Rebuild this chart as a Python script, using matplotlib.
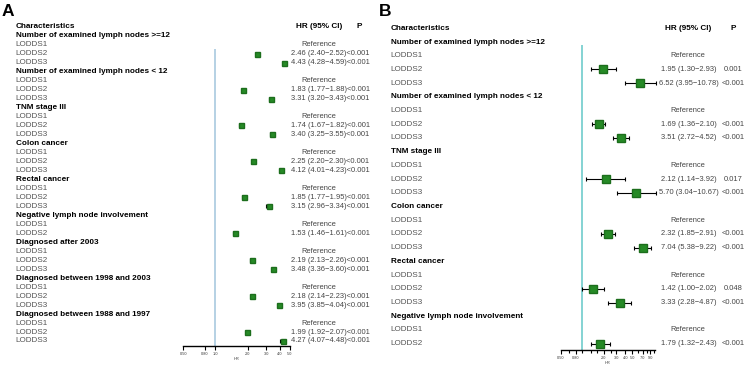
import numpy as np
import matplotlib
matplotlib.use('Agg')
from matplotlib import pyplot as plt
from matplotlib import transforms

plt.rcParams['font.family'] = ['Liberation Sans', 'DejaVu Sans']

## Panel A data
a_groups = ['Number of examined lymph nodes >=12', 'Number of examined lymph nodes < 12',
            'TNM stage III', 'Colon cancer', 'Rectal cancer',
            'Negative lymph node involvement', 'Diagnosed after 2003',
            'Diagnosed between 1998 and 2003', 'Diagnosed between 1988 and 1997']
a_levels = [['LODDS1', 'LODDS2', 'LODDS3']] * 5 + [['LODDS1', 'LODDS2']] + [['LODDS1', 'LODDS2', 'LODDS3']] * 3
a_hr = [[2.46, 4.43], [1.83, 3.31], [1.74, 3.40], [2.25, 4.12], [1.85, 3.15],
        [1.53], [2.19, 3.48], [2.18, 3.95], [1.99, 4.27]]
a_lo = [[2.40, 4.28], [1.77, 3.20], [1.67, 3.25], [2.20, 4.01], [1.77, 2.96],
        [1.46], [2.13, 3.36], [2.14, 3.85], [1.92, 4.07]]
a_hi = [[2.52, 4.59], [1.88, 3.43], [1.82, 3.55], [2.30, 4.23], [1.95, 3.34],
        [1.61], [2.26, 3.60], [2.23, 4.04], [2.07, 4.48]]
a_p = [['<0.001', '<0.001']] * 5 + [['<0.001']] + [['<0.001', '<0.001']] * 3
a_ticks = [0.5, 0.8, 1.0, 2.0, 3.0, 4.0, 5.0]
a_ticklabels = ['0.50', '0.80', '1.0', '2.0', '3.0', '4.0', '5.0']

## Panel B data
b_groups = ['Number of examined lymph nodes >=12', 'Number of examined lymph nodes < 12',
            'TNM stage III', 'Colon cancer', 'Rectal cancer',
            'Negative lymph node involvement']
b_levels = [['LODDS1', 'LODDS2', 'LODDS3']] * 5 + [['LODDS1', 'LODDS2']]
b_hr = [[1.95, 6.52], [1.69, 3.51], [2.12, 5.70], [2.32, 7.04], [1.42, 3.33], [1.79]]
b_lo = [[1.30, 3.95], [1.36, 2.72], [1.14, 3.04], [1.85, 5.38], [1.00, 2.28], [1.32]]
b_hi = [[2.93, 10.78], [2.10, 4.52], [3.92, 10.67], [2.91, 9.22], [2.02, 4.87], [2.43]]
b_p = [['0.001', '<0.001'], ['<0.001', '<0.001'], ['0.017', '<0.001'],
       ['<0.001', '<0.001'], ['0.048', '<0.001'], ['<0.001']]
b_ticks = [0.5, 0.8, 2.0, 3.0, 4.0, 5.0, 7.0, 9.0]
b_ticklabels = ['0.50', '0.80', '2.0', '3.0', '4.0', '5.0', '7.0', '9.0']
b_minor = [0.65, 1.0, 1.3, 1.6, 2.5, 6.0, 8.0, 10.0]

W, H = 747, 368
GREEN = '#268a26'
fig = plt.figure(figsize=(W / 100, H / 100), dpi=100)


def panel(letter, groups, levels, hr, lo, hi, pv, layout):
    (lx, let_x, ax_l, ax_r, xlim, row0, step, axis_y, line_top,
     hr_x, hr_ha, p_x, p_ha, ref_x, msize, fs, vfs, vcolor) = layout
    ybot = (axis_y - row0) / step
    ax = fig.add_axes([ax_l / W, 1 - axis_y / H, (ax_r - ax_l) / W, (axis_y - (row0 - step)) / H])
    ax.set_xscale('log')
    ax.set_xlim(xlim)
    ax.set_ylim(ybot, -1)
    tr = transforms.blended_transform_factory(fig.transFigure, ax.transData)

    fig.text(let_x / W, 1 - 11 / H, letter, fontsize=12.5, fontweight='bold', va='center', ha='left')
    ax.text(lx / W, 0, 'Characteristics', transform=tr, fontsize=fs, fontweight='bold', va='center')
    ax.text(ref_x / W, 0, 'HR (95% CI)', transform=tr, fontsize=fs, fontweight='bold', va='center', ha='center')
    ax.text(p_x / W, 0, 'P', transform=tr, fontsize=fs, fontweight='bold', va='center', ha='center')

    r = 1
    for g, lev, h, l, u, p in zip(groups, levels, hr, lo, hi, pv):
        ax.text(lx / W, r, g, transform=tr, fontsize=fs, fontweight='bold', va='center')
        r += 1
        for k, name in enumerate(lev):
            ax.text(lx / W, r, name, transform=tr, fontsize=fs, color='#555555', va='center')
            if k == 0:
                ax.text(ref_x / W, r, 'Reference', transform=tr, fontsize=vfs, color='#444444',
                        va='center', ha='center')
            else:
                v, a, b = h[k - 1], l[k - 1], u[k - 1]
                ax.errorbar(v, r, xerr=[[v - a], [b - v]], fmt='s', color=GREEN, mec='#1c6e1c',
                            ms=msize, ecolor='black', elinewidth=0.8, capsize=1.5, capthick=0.8,
                            clip_on=False, zorder=3)
                if letter == 'A':
                    ax.text(hr_x / W, r, f'{v:.2f} ({a:.2f}\u2212{b:.2f}){p[k - 1]}', transform=tr,
                            fontsize=vfs, color='#444444', va='center', ha=hr_ha)
                else:
                    ax.text(hr_x / W, r, f'{v:.2f} ({a:.2f}\u2212{b:.2f})', transform=tr,
                            fontsize=vfs, color='#444444', va='center', ha=hr_ha)
                    ax.text(p_x / W, r, p[k - 1], transform=tr, fontsize=vfs, color='#444444',
                            va='center', ha=p_ha)
            r += 1

    ax.vlines(1.0, (line_top - row0) / step, ybot, color=vcolor, lw=1.2, zorder=1)
    for s in ['top', 'right', 'left']:
        ax.spines[s].set_visible(False)
    ax.spines['bottom'].set_linewidth(1.0)
    ax.set_yticks([])
    ax.minorticks_off()
    ax.tick_params(axis='x', which='both', direction='out', length=3, width=0.8,
                   labelsize=2.8, pad=1.5, labelcolor='#333333')
    ax.xaxis.set_label_text('HR', fontsize=2.8, color='#333333')
    ax.xaxis.labelpad = 0.5
    return ax


axA = panel('A', a_groups, a_levels, a_hr, a_lo, a_hi, a_p,
            (15.7, 2.0, 183.3, 290.0, (0.5, 5.0), 26.7, 8.98, 346, 49,
             290.7, 'left', 358.7, 'center', 319, 3.6, 5.9, 5.4, '#a9c9df'))
axA.set_xticks(a_ticks)
axA.set_xticklabels(a_ticklabels)
axA.xaxis.set_minor_locator(matplotlib.ticker.NullLocator())

axB = panel('B', b_groups, b_levels, b_hr, b_lo, b_hi, b_p,
            (390.7, 378.5, 561.0, 654.5, (0.5, 10.3), 28.3, 13.71, 350, 45,
             689, 'center', 733, 'center', 688, 5.3, 5.9, 5.4, '#6fcccc'))
axB.set_xticks(b_ticks)
axB.set_xticklabels(b_ticklabels)
axB.set_xticks(b_minor, minor=True)
axB.set_xticklabels([], minor=True)
axB.tick_params(axis='x', which='minor', length=2.5, width=0.8)

fig.savefig('out.png', dpi=100)
